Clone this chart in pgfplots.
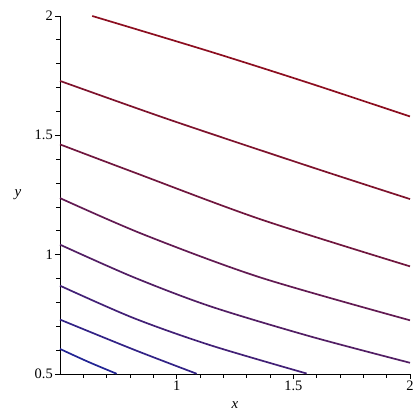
\documentclass[border=0pt]{standalone}
\usepackage{pgfplots}
\pgfplotsset{compat=1.18}
\usepackage{fontspec}
\setmainfont{Liberation Serif}

% contour colours, high (red) to low (blue)
\definecolor{c1}{RGB}{140,14,32}
\definecolor{c2}{RGB}{126,18,44}
\definecolor{c3}{RGB}{112,22,62}
\definecolor{c4}{RGB}{98,26,82}
\definecolor{c5}{RGB}{82,30,100}
\definecolor{c6}{RGB}{66,32,118}
\definecolor{c7}{RGB}{50,34,134}
\definecolor{c8}{RGB}{34,36,148}

\begin{document}
\begin{tikzpicture}
\begin{axis}[
  scale only axis,
  width=350bp, height=358bp,
  xmin=0.5, xmax=2, ymin=0.5, ymax=2,
  axis lines=left,
  axis line style={-, line width=1bp},
  tick align=outside,
  tick style={black, line width=0.8bp},
  major tick length=5bp,
  minor tick length=3.5bp,
  xtick={1,1.5,2},
  ytick={0.5,1,1.5,2},
  minor xtick={0.6,0.7,0.8,0.9,1.1,1.2,1.3,1.4,1.6,1.7,1.8,1.9},
  minor ytick={0.6,0.7,0.8,0.9,1.1,1.2,1.3,1.4,1.6,1.7,1.8,1.9},
  /pgf/number format/assume math mode=true,
  tick label style={font=\fontsize{14.5}{17}\selectfont, inner sep=2bp},
  xlabel={\textit{x}},
  ylabel={\textit{y}},
  label style={font=\fontsize{15}{17}\selectfont},
  xlabel style={at={(axis description cs:0.5,0)}, anchor=center, yshift=-31bp},
  ylabel style={rotate=-90, at={(axis description cs:0,0.5)}, anchor=center, xshift=-42bp},
  every axis plot/.append style={line width=1.7bp, smooth, no markers},
  clip=false,
]
\addplot[c1] coordinates {(0.638,2.0) (1.143,1.851) (1.571,1.718) (2.0,1.579)};
\addplot[c2] coordinates {(0.5,1.728) (0.971,1.565) (1.571,1.369) (2.0,1.233)};
\addplot[c3] coordinates {(0.5,1.462) (0.814,1.346) (1.357,1.149) (2.0,0.951)};
\addplot[c4] coordinates {(0.5,1.237) (0.857,1.085) (1.357,0.905) (2.0,0.725)};
\addplot[c5] coordinates {(0.5,1.042) (0.814,0.906) (1.143,0.784) (1.571,0.658) (2.0,0.547)};
\addplot[c6] coordinates {(0.5,0.870) (0.814,0.735) (1.143,0.621) (1.557,0.502)};
\addplot[c7] coordinates {(0.5,0.728) (0.814,0.603) (1.086,0.501)};
\addplot[c8] coordinates {(0.5,0.605) (0.621,0.551) (0.743,0.501)};
\coordinate (sw) at (rel axis cs:0,0);
\coordinate (ne) at (rel axis cs:1,1);
\end{axis}
\useasboundingbox ([shift={(-60bp,-45.5bp)}]sw) rectangle ([shift={(10bp,16bp)}]ne);
\end{tikzpicture}
\end{document}
